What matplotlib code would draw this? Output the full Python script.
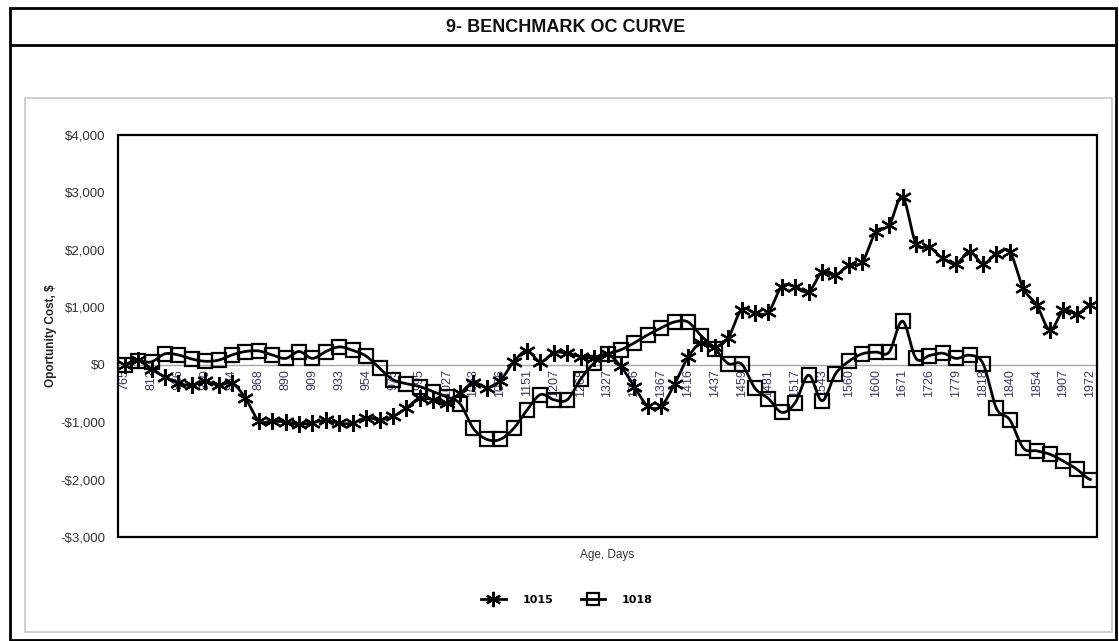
import numpy as np
import matplotlib
matplotlib.use('Agg')
import matplotlib.pyplot as plt
from matplotlib import font_manager
from matplotlib.patches import Rectangle
from matplotlib.lines import Line2D

# ---------------- data ----------------
age_labels = ['765', '812', '826', '840', '854', '868', '890', '909', '933', '954',
              '975', '995', '1027', '1063', '1096', '1151', '1207', '1268', '1327',
              '1346', '1367', '1416', '1437', '1459', '1481', '1517', '1543', '1560',
              '1600', '1671', '1726', '1779', '1818', '1840', '1854', '1907', '1972']

series_names = ['1015', '1018']

s1015 = [0, 90, -80, -210, -320, -360, -290, -360, -320, -580,
         -980, -980, -1000, -1040, -1010, -970, -1020, -1020, -920, -960,
         -900, -755, -580, -610, -660, -500, -310, -400, -280, 50,
         240, 50, 210, 200, 140, 115, 180, -30, -380, -720,
         -720, -340, 130, 380, 300, 470, 960, 900, 920, 1360,
         1360, 1270, 1610, 1560, 1735, 1790, 2310, 2430, 2920, 2110,
         2050, 1850, 1760, 1970, 1760, 1935, 1965, 1330, 1040, 605,
         950, 885, 1040]

s1018 = [0, 60, 50, 190, 170, 100, 60, 80, 170, 230,
         240, 170, 110, 230, 110, 230, 310, 250, 150, -60,
         -260, -330, -380, -470, -560, -680, -1110, -1300, -1300, -1110,
         -790, -520, -610, -610, -250, 30, 180, 260, 380, 520,
         640, 745, 745, 500, 280, 20, 10, -410, -590, -830,
         -660, -180, -630, -160, 60, 190, 220, 220, 760, 110,
         160, 200, 110, 165, 20, -760, -960, -1450, -1500, -1560,
         -1680, -1820, -2000]

y_ticks = [-3000, -2000, -1000, 0, 1000, 2000, 3000, 4000]

# ---------------- fonts ----------------
names = {f.name for f in font_manager.fontManager.ttflist}
narrow = 'Liberation Sans Narrow' if 'Liberation Sans Narrow' in names else 'Liberation Sans'
plt.rcParams['font.family'] = [narrow, 'DejaVu Sans']

W, H = 1119, 641
fig = plt.figure(figsize=(W / 100, H / 100), dpi=100)
fig.patch.set_facecolor('white')


def fx(px):
    return px / W


def fy(py):
    return 1 - py / H


# outer frame, title band and chart-area border
fig.add_artist(Rectangle((fx(10), fy(640)), fx(1116) - fx(10), fy(8) - fy(640),
                         transform=fig.transFigure, fill=False, ec='black', lw=2))
fig.add_artist(Line2D([fx(10), fx(1116)], [fy(45), fy(45)], transform=fig.transFigure,
                      color='black', lw=2))
fig.add_artist(Rectangle((fx(25), fy(632)), fx(1112) - fx(25), fy(98) - fy(632),
                         transform=fig.transFigure, fill=False, ec='#c8c8c8', lw=1.2))
fig.text(fx(566), fy(27), '9- BENCHMARK OC CURVE', ha='center', va='center',
         fontsize=13, fontweight='bold', color='#111111')

# plot area
ax = fig.add_axes([fx(118), fy(537), fx(1097) - fx(118), fy(135) - fy(537)])
n = len(s1015)
x = np.arange(n)


def smooth(vals, steps=12):
    v = np.asarray(vals, float)
    ext = np.concatenate([[v[0]], v, [v[-1]]])
    xs, ys = [], []
    t = np.linspace(0, 1, steps, endpoint=False)
    h00 = 2 * t**3 - 3 * t**2 + 1
    h10 = t**3 - 2 * t**2 + t
    h01 = -2 * t**3 + 3 * t**2
    h11 = t**3 - t**2
    for i in range(len(v) - 1):
        p0, p1, p2, p3 = ext[i], ext[i + 1], ext[i + 2], ext[i + 3]
        m1 = (p2 - p0) / 2
        m2 = (p3 - p1) / 2
        xs.append(i + t)
        ys.append(h00 * p1 + h10 * m1 + h01 * p2 + h11 * m2)
    xs.append([len(v) - 1])
    ys.append([v[-1]])
    return np.concatenate(xs), np.concatenate(ys)


star = (6, 2, 0)
for vals, mk, ms in [(s1018, 's', 10), (s1015, star, 12)]:
    sx, sy = smooth(vals)
    ax.plot(sx, sy, color='black', lw=2.0, zorder=3)
    ax.plot(x, vals, ls='none', marker=mk, ms=ms, mfc='none', mec='black',
            mew=1.6, zorder=4)

ax.set_xlim(-0.5, n - 0.5)
ax.set_ylim(-3000, 4000)
ax.set_yticks(y_ticks)
ax.set_yticklabels([('-$' if v < 0 else '$') + f'{abs(v):,}' for v in y_ticks])
ax.set_xticks(np.arange(0, n, 2))
ax.set_xticklabels(age_labels)

for side in ['top', 'right', 'left']:
    ax.spines[side].set_visible(False)
ax.spines['bottom'].set_position(('data', 0))
ax.spines['bottom'].set_color('#a8a8a8')
ax.spines['bottom'].set_linewidth(1.0)
ax.spines['bottom'].set_zorder(1)
ax.add_patch(Rectangle((0, 0), 1, 1, transform=ax.transAxes, fill=False,
                       ec='black', lw=1.6, zorder=5, clip_on=False))

ax.tick_params(axis='x', length=0, pad=3, labelsize=9, labelcolor='#3a3a60',
               labelrotation=90)
ax.tick_params(axis='y', length=0, pad=9, labelsize=9.5, labelcolor='#333333')

ax.set_ylabel('Oportunity Cost, $', fontsize=8.5, fontweight='bold', color='#222222')
ax.yaxis.set_label_coords(-0.062, 0.5)
ax.set_xlabel('Age, Days', fontsize=8.5, color='#333333')
ax.xaxis.set_label_coords(0.5, -0.03)

handles = [Line2D([], [], color='black', lw=2.0, marker=star, ms=11, mfc='none', mew=1.6),
           Line2D([], [], color='black', lw=2.0, marker='s', ms=9, mfc='none', mew=1.6)]
fig.legend(handles, series_names, loc='center', bbox_to_anchor=(fx(567), fy(600)),
           ncol=2, frameon=False, handlelength=2.2, columnspacing=2.5, handletextpad=1.5,
           prop={'family': 'DejaVu Sans', 'weight': 'bold', 'size': 8})

fig.savefig('out.png', dpi=100)
